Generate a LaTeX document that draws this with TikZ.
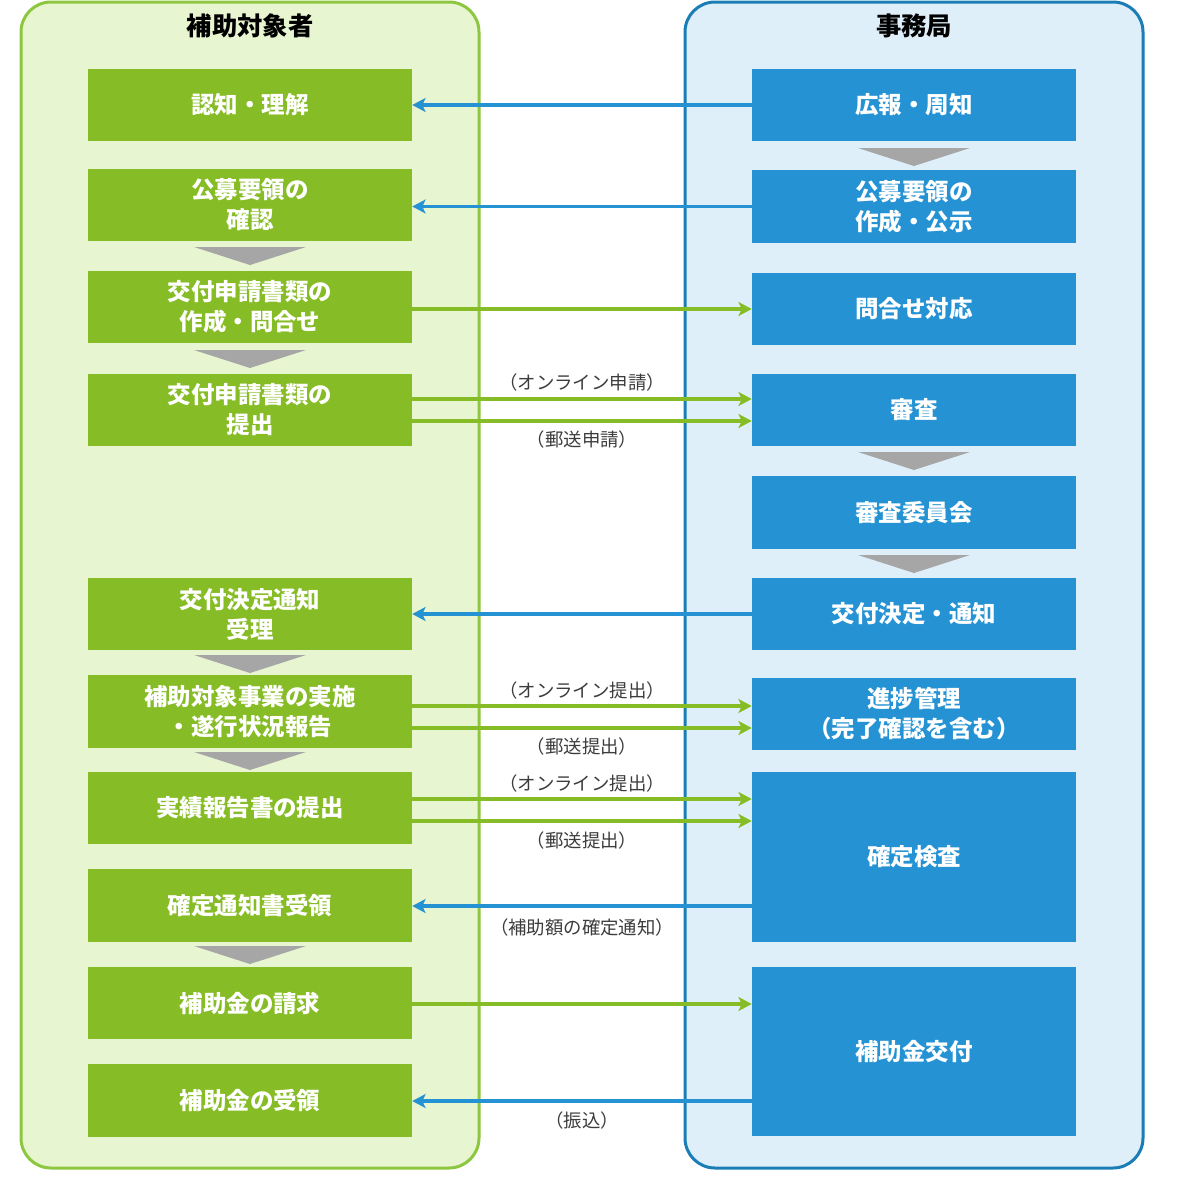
\documentclass[tikz,border=0pt]{standalone}
\usepackage{fontspec}
\setmainfont{Noto Sans CJK JP}
\usepackage{xcolor}
\usepackage{tikz}
\usetikzlibrary{arrows.meta}
\definecolor{leafgreen}{RGB}{134,188,38}
\definecolor{officeblue}{RGB}{36,146,211}
\definecolor{greenpanel}{RGB}{231,245,208}
\definecolor{greenrim}{RGB}{141,198,63}
\definecolor{bluepanel}{RGB}{223,239,250}
\definecolor{bluerim}{RGB}{27,125,181}
\definecolor{chevgray}{RGB}{166,166,166}
\definecolor{notegray}{RGB}{60,60,60}
\tikzstyle{applicant} = [rectangle, minimum width=243pt, minimum height=54.5pt, inner sep=0pt, text centered, align=center, fill=leafgreen, text=white, font=\fontsize{17.6}{22.5}\selectfont\bfseries]
\tikzstyle{office} = [applicant, fill=officeblue]
\tikzstyle{send} = [line width=2.8pt, draw=leafgreen, -{Stealth[length=10pt,width=10.5pt,inset=2.5pt]}]
\tikzstyle{reply} = [send, draw=officeblue]
\tikzstyle{note} = [text=notegray, font=\fontsize{13.8}{16}\selectfont]
\tikzstyle{title} = [text=black, font=\fontsize{19}{23}\selectfont\bfseries]
\tikzstyle{chevron} = [fill=chevgray]

\begin{document}
\begin{tikzpicture}[x=0.75pt, y=-0.75pt]
        \useasboundingbox (0,0) rectangle (1182,1200);
        % panels
        \draw [fill=greenpanel, draw=greenrim, line width=2.25pt, rounded corners=22.5pt] (21,2) rectangle (479,1168);
        \draw [fill=bluepanel, draw=bluerim, line width=2.25pt, rounded corners=22.5pt] (685,2) rectangle (1143,1168);
        \node (applicanttitle) [title] at (250,26) {補助対象者};
        \node (officetitle) [title] at (914,26) {事務局};

        % 補助対象者
        \node (aware) [applicant] at (250,105) {認知・理解};
        \node (check) [applicant] at (250,205) {公募要領の\\確認};
        \node (prepare) [applicant] at (250,307) {交付申請書類の\\作成・問合せ};
        \node (submit) [applicant] at (250,410) {交付申請書類の\\提出};
        \node (receive) [applicant] at (250,614) {交付決定通知\\受理};
        \node (execute) [applicant] at (250,711.5) {補助対象事業の実施\\・遂行状況報告};
        \node (report) [applicant] at (250,808) {実績報告書の提出};
        \node (confirm) [applicant] at (250,905.5) {確定通知書受領};
        \node (claim) [applicant] at (250,1003) {補助金の請求};
        \node (payment) [applicant] at (250,1100.5) {補助金の受領};

        % 事務局
        \node (publicity) [office] at (914,105) {広報・周知};
        \node (publish) [office] at (914,206.5) {公募要領の\\作成・公示};
        \node (inquiry) [office] at (914,309) {問合せ対応};
        \node (review) [office] at (914,410) {審査};
        \node (committee) [office] at (914,512.5) {審査委員会};
        \node (decision) [office] at (914,614) {交付決定・通知};
        \node (progress) [office] at (914,714) {進捗管理\\（完了確認を含む）};
        \node (inspect) [office, minimum height=127.5pt] at (914,857) {確定検査};
        \node (grant) [office, minimum height=126.75pt] at (914,1051.5) {補助金交付};

        % flow chevrons
        \foreach \x/\y in {250/247, 250/350, 250/655, 250/752, 250/946, 914/148, 914/452, 914/555}
            \fill [chevron] (\x-56,\y) -- (\x+56,\y) -- (\x,\y+18) -- cycle;

        % connectors
        \draw [reply] (publicity.west) -- (publicity.west -| aware.east);
        \draw [reply] (publish.west) -- (publish.west -| check.east);
        \draw [send] (prepare.east |- 0,309) -- (inquiry.west |- 0,309);
        \draw [send] (submit.east |- 0,399) -- (review.west |- 0,399);
        \draw [send] (submit.east |- 0,421) -- (review.west |- 0,421);
        \draw [reply] (decision.west) -- (receive.east);
        \draw [send] (execute.east |- 0,706) -- (progress.west |- 0,706);
        \draw [send] (execute.east |- 0,728) -- (progress.west |- 0,728);
        \draw [send] (report.east |- 0,799) -- (inspect.west |- 0,799);
        \draw [send] (report.east |- 0,821) -- (inspect.west |- 0,821);
        \draw [reply] (inspect.west |- 0,906) -- (confirm.east |- 0,906);
        \draw [send] (claim.east |- 0,1004) -- (grant.west |- 0,1004);
        \draw [reply] (grant.west |- 0,1101) -- (payment.east |- 0,1101);

        % labels
        \node (onlineapply) [note] at (582,383) {（オンライン申請）};
        \node (mailapply) [note] at (582,440) {（郵送申請）};
        \node (onlineprogress) [note] at (582,690) {（オンライン提出）};
        \node (mailprogress) [note] at (582,746) {（郵送提出）};
        \node (onlinereport) [note] at (582,783) {（オンライン提出）};
        \node (mailreport) [note] at (582,840) {（郵送提出）};
        \node (amountnote) [note] at (582,927) {（補助額の確定通知）};
        \node (transfernote) [note] at (582,1120) {（振込）};
    \end{tikzpicture}
\end{document}
